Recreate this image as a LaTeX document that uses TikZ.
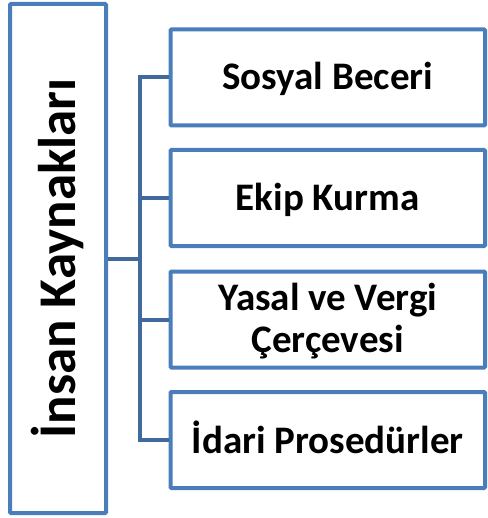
\documentclass[tikz,border=0pt]{standalone}
\usepackage{fontspec}
\setmainfont{Carlito}
\definecolor{boxblue}{RGB}{74,126,187}
\definecolor{connblue}{RGB}{65,105,158}
\newcommand{\sst}{\rule[-6pt]{0pt}{37pt}}
\newcommand{\lst}{\rule[-10pt]{0pt}{52pt}}
\tikzset{
  itembox/.style={draw=boxblue, line width=4pt, rounded corners=1pt, fill=white,
    minimum width=314.5pt, minimum height=96pt, inner sep=0pt, align=center,
    font=\fontsize{39}{42}\selectfont\bfseries},
  mainbox/.style={draw=boxblue, line width=4pt, rounded corners=1pt, fill=white,
    rotate=90, minimum width=509pt, minimum height=96pt, inner sep=0pt,
    font=\fontsize{53}{60}\selectfont\bfseries},
  conn/.style={draw=connblue, line width=4pt, line join=miter}
}
\begin{document}
\begin{tikzpicture}[x=1pt,y=-1pt]
\useasboundingbox (0,0) rectangle (487,518);
\node[mainbox] (L) at (58,258.5) {İnsan Kaynakları\lst};
\node[itembox] (B1) at (327.75,77.5) {Sosyal Beceri\sst};
\node[itembox] (B2) at (327.75,198) {Ekip Kurma\sst};
\node[itembox] (B3) at (327.75,319.5) {Yasal ve Vergi\sst\\Çerçevesi\sst};
\node[itembox] (B4) at (327.75,440) {İdari Prosedürler\sst};
\coordinate (J) at (139.5,258.5);
\draw[conn] (L.south) -- (J);
\draw[conn] (B1.west) -| (J) |- (B4.west);
\draw[conn] (B2.west) -- (B2.west -| J);
\draw[conn] (B3.west) -- (B3.west -| J);
\end{tikzpicture}
\end{document}
